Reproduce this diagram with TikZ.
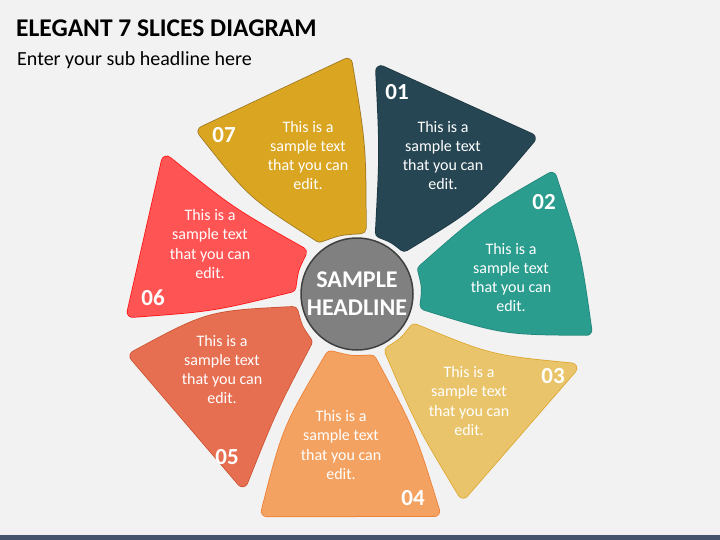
\documentclass[tikz,border=0pt]{standalone}
\usepackage{fontspec}
\setmainfont{Carlito}
\definecolor{bgc}{HTML}{F2F2F2}
\definecolor{barc}{HTML}{44546A}
\definecolor{ca}{HTML}{264653} \definecolor{oa}{HTML}{1C3640}
\definecolor{cb}{HTML}{2A9D8F} \definecolor{ob}{HTML}{20857A}
\definecolor{cc}{HTML}{E9C46A} \definecolor{oc}{HTML}{DDA52A}
\definecolor{cd}{HTML}{F4A261} \definecolor{od}{HTML}{ED7D31}
\definecolor{ce}{HTML}{E76F51} \definecolor{oe}{HTML}{C8502F}
\definecolor{cf}{HTML}{FF5454} \definecolor{of}{HTML}{FF1010}
\definecolor{cg}{HTML}{DAA520} \definecolor{og}{HTML}{9A7420}
\begin{document}
\begin{tikzpicture}[x=1pt,y=-1pt, line join=round, line cap=round,
  slice/.style 2 args={fill=#1, draw=#1, line width=10pt, preaction={draw=#2, line width=11.5pt}},
  txt/.style={text=white, align=center, font=\fontsize{16}{19.2}\selectfont},
  num/.style={text=white, font=\fontsize{23}{26}\selectfont\bfseries}]
\fill[bgc] (0,0) rectangle (720,540);
\fill[barc] (0,535) rectangle (720,540);
\node[anchor=west, inner sep=0, font=\fontsize{25.5}{30}\selectfont\bfseries] (title) at (16,28) {ELEGANT 7 SLICES DIAGRAM};
\node[anchor=west, inner sep=0, font=\fontsize{20}{24}\selectfont] (sub) at (17,60) {Enter your sub headline here};
% slices
\path[slice={ca}{oa}] (381,71) -- (530,138.5) .. controls (476,202.4) .. (404.3,246) .. controls (393.6,237.6) .. (380.7,232.6) .. controls (385,151.7) .. (381,71) -- cycle;
\path[slice={cb}{ob}] (551.3,177.7) .. controls (575.4,252.4) .. (586.5,330) .. controls (504.1,329.4) .. (425.4,305) .. controls (427.5,287.4) .. (423,269.8) .. controls (482.5,217.3) .. (551.3,177.7) -- cycle;
\path[slice={cc}{oc}] (414.6,329.3) .. controls (490.1,360.4) .. (571.5,368.3) -- (463.2,492.9) .. controls (422,424.5) .. (390.2,351.3) .. controls (404.5,342.4) .. (414.6,329.3) -- cycle;
\path[slice={cd}{od}] (330.7,356.2) .. controls (350.6,361.3) .. (371,360.4) .. controls (410.1,432.7) .. (434.3,511.2) -- (266.6,511.3) .. controls (287.6,429.2) .. (330.7,356.2) -- cycle;
\path[slice={ce}{oe}] (135.2,356.1) .. controls (209,316.1) .. (292.8,311.9) .. controls (297.2,328.5) .. (306.7,342) .. controls (271,410.1) .. (242.5,481.5) -- cycle;
\path[slice={cf}{of}] (166.7,161.4) .. controls (230.2,212.4) .. (301.2,252.4) .. controls (293.1,268.6) .. (290.6,286.9) .. controls (212.7,306.1) .. (132.5,312) -- cycle;
\path[slice={cg}{og}] (203.3,131.5) -- (347,63.7) .. controls (360.6,145.4) .. (360.8,228.4) .. controls (339.4,229.7) .. (319.7,236.8) .. controls (252.6,194) .. (203.3,131.5) -- cycle;
% centre
\node[circle, fill=gray, draw=black!75, line width=1.5pt, minimum size=112, inner sep=0, text=white, align=center,
  font=\fontsize{24}{28}\selectfont\bfseries] (head) at (357,294) {SAMPLE\\HEADLINE};
% texts
\node[txt] (t1) at (443,155.5) {This is a\\sample text\\that you can\\edit.};
\node[txt] (t2) at (511,277.5) {This is a\\sample text\\that you can\\edit.};
\node[txt] (t3) at (469,401) {This is a\\sample text\\that you can\\edit.};
\node[txt] (t4) at (341,445) {This is a\\sample text\\that you can\\edit.};
\node[txt] (t5) at (222,369.5) {This is a\\sample text\\that you can\\edit.};
\node[txt] (t6) at (210,244) {This is a\\sample text\\that you can\\edit.};
\node[txt] (t7) at (308,155.5) {This is a\\sample text\\that you can\\edit.};
\node[num] (n1) at (397,92) {01};
\node[num] (n2) at (544,202) {02};
\node[num] (n3) at (553,376) {03};
\node[num] (n4) at (413,498) {04};
\node[num] (n5) at (227,457) {05};
\node[num] (n6) at (153,298) {06};
\node[num] (n7) at (224,135) {07};
\end{tikzpicture}
\end{document}
